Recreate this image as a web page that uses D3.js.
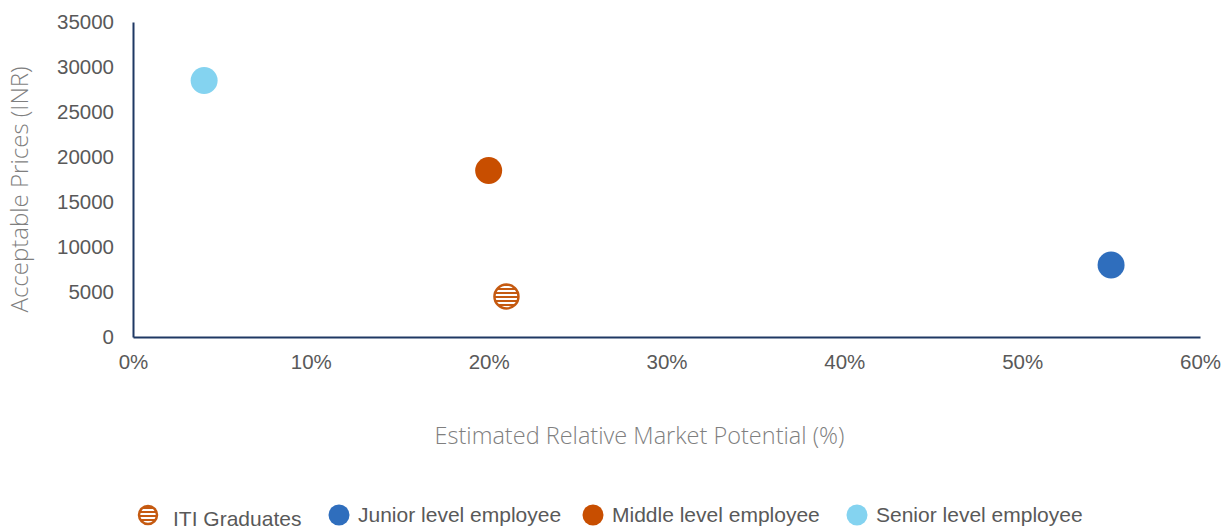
<!DOCTYPE html>
<html>
<head>
<meta charset="utf-8">
<script src="https://cdn.jsdelivr.net/npm/d3@7"></script>
<style>
  html, body { margin: 0; padding: 0; background: #fff; }
  svg { display: block; }
</style>
</head>
<body>
<svg id="chart" width="1227" height="529"></svg>
<script>
// Segments: estimated market potential (%) vs acceptable price (INR)
const segments = ["ITI Graduates", "Junior level employee", "Middle level employee", "Senior level employee"];
const marketPotential = [21, 55, 20, 4];
const acceptablePrice = [4500, 8000, 18500, 28500];
const segmentColors = ["#C55A11", "#2F6EBD", "#C84E00", "#84D3F0"];
const striped = [true, false, false, false];

const xTicks = [0, 10, 20, 30, 40, 50, 60];
const yTicks = [0, 5000, 10000, 15000, 20000, 25000, 30000, 35000];

const svg = d3.select("#chart");
const margin = { left: 133, right: 27, top: 22, bottom: 192 };
const W = 1227, H = 529;

const x = d3.scaleLinear().domain([0, 60]).range([margin.left, W - margin.right]);
const y = d3.scaleLinear().domain([0, 35000]).range([H - margin.bottom, margin.top]);

// Stripe pattern for the ITI Graduates marker
const defs = svg.append("defs");
const pat = defs.append("pattern")
  .attr("id", "stripes")
  .attr("patternUnits", "userSpaceOnUse")
  .attr("width", 8).attr("height", 4);
pat.append("rect").attr("width", 8).attr("height", 4).attr("fill", "#fff");
pat.append("rect").attr("y", 0).attr("width", 8).attr("height", 2).attr("fill", "#C55A11");

const axisColor = "#1F3864";
const labelFont = "'Liberation Sans', Arial, sans-serif";
const titleFont = "'Open Sans', 'DejaVu Sans', sans-serif";

// Y axis
const yAxis = svg.append("g")
  .attr("transform", `translate(${x(0)},0)`)
  .call(d3.axisLeft(y).tickValues(yTicks).tickSize(0).tickPadding(19).tickFormat(d3.format("d")));
yAxis.select(".domain").attr("stroke", axisColor).attr("stroke-width", 2);
yAxis.selectAll("text").attr("font-family", labelFont).attr("font-size", 20.5).attr("fill", "#595959");

// X axis
const xAxis = svg.append("g")
  .attr("transform", `translate(0,${y(0)})`)
  .call(d3.axisBottom(x).tickValues(xTicks).tickSize(0).tickPadding(17).tickFormat(d => d + "%"));
xAxis.select(".domain").attr("stroke", axisColor).attr("stroke-width", 2);
xAxis.selectAll("text").attr("font-family", labelFont).attr("font-size", 20.5).attr("fill", "#595959");

// Axis titles
svg.append("text")
  .attr("x", (x(0) + x(60)) / 2 - 27)
  .attr("y", 444)
  .attr("text-anchor", "middle")
  .attr("font-family", titleFont)
  .attr("font-weight", 300)
  .attr("font-size", 23.5)
  .attr("fill", "#7F7F7F")
  .text("Estimated Relative Market Potential (%)");

svg.append("text")
  .attr("transform", `translate(28,${(y(0) + y(35000)) / 2 + 10}) rotate(-90)`)
  .attr("text-anchor", "middle")
  .attr("font-family", titleFont)
  .attr("font-weight", 300)
  .attr("font-size", 24)
  .attr("fill", "#7F7F7F")
  .text("Acceptable Prices (INR)");

// Points
const data = segments.map((s, i) => ({
  name: s, mp: marketPotential[i], price: acceptablePrice[i],
  color: segmentColors[i], striped: striped[i]
}));

svg.append("g").selectAll("circle")
  .data(data)
  .join("circle")
  .attr("cx", d => x(d.mp))
  .attr("cy", d => y(d.price))
  .attr("r", d => d.striped ? 12 : 13.5)
  .attr("fill", d => d.striped ? "url(#stripes)" : d.color)
  .attr("stroke", d => d.striped ? d.color : "none")
  .attr("stroke-width", d => d.striped ? 2.5 : 0);

// Legend
const legendX = [148, 339, 593, 857];
const legend = svg.append("g");
data.forEach((d, i) => {
  const g = legend.append("g").attr("transform", `translate(${legendX[i]},515)`);
  g.append("circle")
    .attr("r", d.striped ? 9 : 10.5)
    .attr("fill", d.striped ? "url(#stripes)" : d.color)
    .attr("stroke", d.striped ? d.color : "none")
    .attr("stroke-width", d.striped ? 2.5 : 0);
  g.append("text")
    .attr("x", d.striped ? 25 : 19)
    .attr("y", d.striped ? 11 : 7)
    .attr("font-family", labelFont)
    .attr("font-size", 21)
    .attr("fill", "#595959")
    .text(d.name);
});
</script>
</body>
</html>
